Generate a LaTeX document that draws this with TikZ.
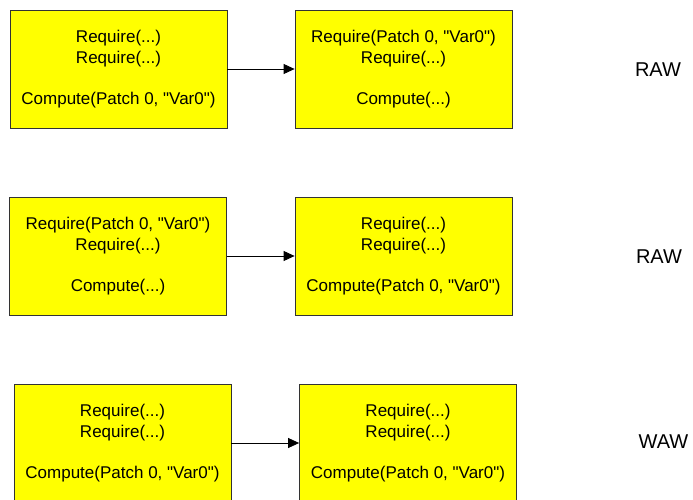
\documentclass[tikz,border=0pt]{standalone}
\usepackage{fontspec}
\setmainfont{Liberation Sans}[Ligatures=TeXOff]
\usetikzlibrary{arrows.meta}
\definecolor{taskyellow}{RGB}{255,255,0}
\begin{document}
\begin{tikzpicture}[x=1pt,y=-1pt,>={Triangle[length=11pt,width=10pt]},
  task/.style={draw=black!80,line width=0.8pt,fill=taskyellow,minimum width=217pt,minimum height=118pt,
    inner sep=0pt,align=center,font=\fontsize{17}{20.7}\selectfont},
  hazard/.style={font=\fontsize{20}{22}\selectfont}]
  \useasboundingbox (0,0) rectangle (693,500);
  \node[task] (r1a) at (118.5,69) {Require(...)\\Require(...)\\ \\Compute(Patch 0, "Var0")};
  \node[task] (r1b) at (403.5,69) {Require(Patch 0, "Var0")\\Require(...)\\ \\Compute(...)};
  \node[task] (r2a) at (118,256) {Require(Patch 0, "Var0")\\Require(...)\\ \\Compute(...)};
  \node[task] (r2b) at (403.5,256) {Require(...)\\Require(...)\\ \\Compute(Patch 0, "Var0")};
  \node[task] (r3a) at (122.5,443) {Require(...)\\Require(...)\\ \\Compute(Patch 0, "Var0")};
  \node[task] (r3b) at (408,443) {Require(...)\\Require(...)\\ \\Compute(Patch 0, "Var0")};
  \draw[->,line width=0.8pt] (r1a) -- (r1b);
  \draw[->,line width=0.8pt] (r2a) -- (r2b);
  \draw[->,line width=0.8pt] (r3a) -- (r3b);
  \node[hazard] (h1) at (658,70) {RAW};
  \node[hazard] (h2) at (659,257) {RAW};
  \node[hazard] (h3) at (663.5,442) {WAW};
\end{tikzpicture}
\end{document}
